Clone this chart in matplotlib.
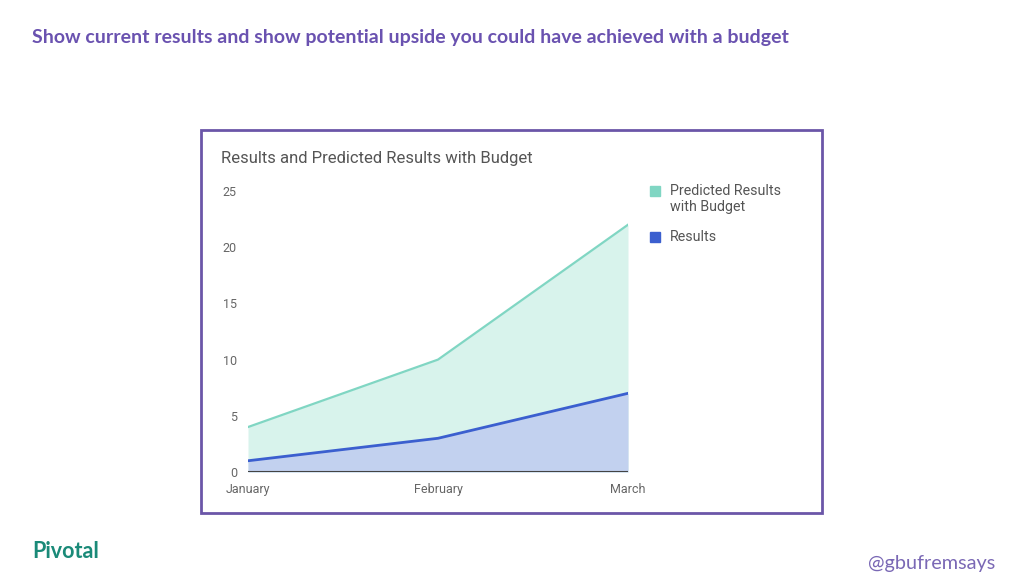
import matplotlib.pyplot as plt
from matplotlib.patches import Rectangle

months = [ 'January', 'February', 'March' ]
predicted = [ 4, 10, 22 ]
results = [ 1, 3, 7 ]
y_ticks = [ 0, 5, 10, 15, 20, 25 ]

plt.rcParams['font.family'] = [ 'Roboto', 'DejaVu Sans' ]

fig = plt.figure( figsize=(10.24, 5.76), dpi=100 )
W, H = 1024, 576

def fx( px ): return px / W
def fy( py ): return 1 - py / H

# slide title
fig.text( fx(32), fy(38), 'Show current results and show potential upside you could have achieved with a budget',
          fontsize=14, fontweight='bold', color='#6a52b0', family='Lato', va='center', ha='left' )

# frame round the chart
fig.patches.append( Rectangle( (fx(201), fy(513)), fx(822) - fx(201), fy(130) - fy(513),
                               transform=fig.transFigure, fill=False, edgecolor='#6b56a8', linewidth=2 ) )

fig.text( fx(221), fy(158), 'Results and Predicted Results with Budget', fontsize=12, color='#555555',
          va='center', ha='left' )

ax = fig.add_axes( [ fx(248), fy(472), fx(628) - fx(248), fy(191) - fy(472) ] )
x = range( len( months ) )
ax.fill_between( x, 0, predicted, color='#d8f3ec', lw=0 )
ax.plot( x, predicted, color='#80d6c3', lw=1.6 )
ax.fill_between( x, 0, results, color='#c2d1ef', lw=0 )
ax.plot( x, results, color='#3b5fcf', lw=2 )
ax.axhline( 0, color='#444444', lw=1.5 )

ax.set_xlim( 0, len( months ) - 1 )
ax.set_ylim( 0, 25 )
ax.set_xticks( list( x ) )
ax.set_xticklabels( months )
ax.set_yticks( y_ticks )
ax.tick_params( length=0, labelsize=9, colors='#666666' )
ax.tick_params( axis='y', pad=8 )
ax.tick_params( axis='x', pad=8 )
for s in ax.spines.values():
    s.set_visible( False )

# legend by hand
fig.patches.append( Rectangle( (fx(650), fy(196)), 10 / W, 10 / H, transform=fig.transFigure,
                               color='#80d6c3' ) )
fig.text( fx(670), fy(199), 'Predicted Results\nwith Budget', fontsize=10.3, color='#555555',
          va='center', ha='left', linespacing=1.25 )
fig.patches.append( Rectangle( (fx(650), fy(242)), 10 / W, 10 / H, transform=fig.transFigure,
                               color='#3b5fcf' ) )
fig.text( fx(670), fy(237), 'Results', fontsize=10.3, color='#555555', va='center', ha='left' )

# footer
fig.text( fx(32), fy(552), 'Pivotal', fontsize=15.5, color='#1a8a78', family='Lato', fontweight='bold',
          va='center', ha='left' )
fig.text( fx(995), fy(563), '@gbufremsays', fontsize=14.3, color='#7a68b5', family='Lato',
          va='center', ha='right' )

fig.savefig( 'out.png', dpi=100 )
